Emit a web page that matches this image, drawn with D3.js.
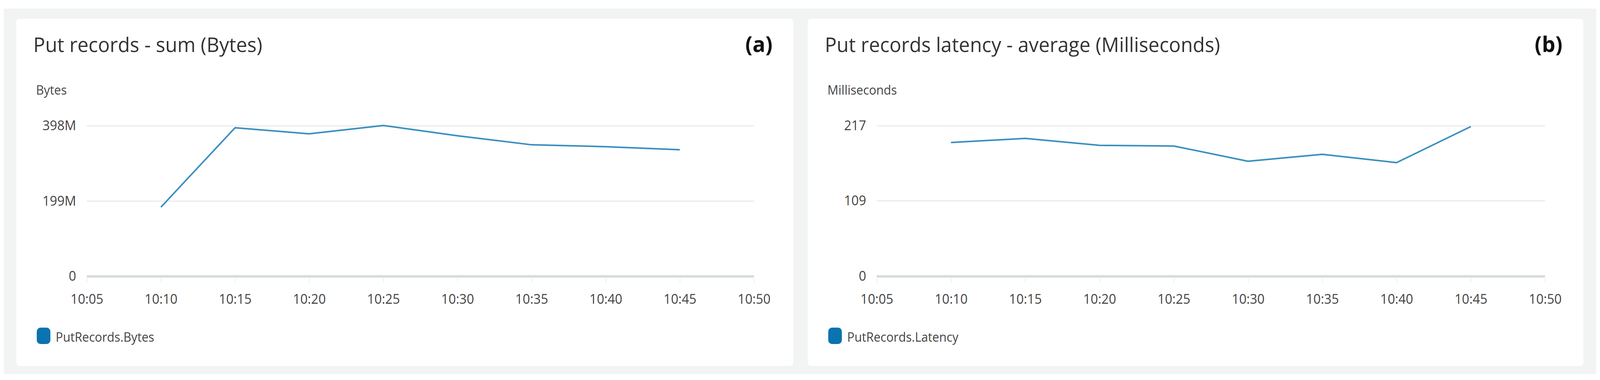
<!DOCTYPE html>
<html><head><meta charset="utf-8">
<script src="https://cdn.jsdelivr.net/npm/d3@7"></script>
<style>html,body{margin:0;padding:0;background:#fff;overflow:hidden;}svg{display:block;width:100vw;height:100vh;}text{font-family:"Open Sans",sans-serif;}</style>
</head><body><svg id="c" viewBox="0 0 4223 972" preserveAspectRatio="none"></svg>
<script>
const times = ["10:05","10:10","10:15","10:20","10:25","10:30","10:35","10:40","10:45","10:50"];
const dataTimes = ["10:10","10:15","10:20","10:25","10:30","10:35","10:40","10:45"];
const bytesValues = [183, 393, 377, 399, 372, 348, 343, 335]; // millions
const latencyValues = [193, 199, 189, 188, 166, 176, 164, 216];
const bytesTicks = [0, 199, 398];
const latencyTicks = [0, 109, 217];

const svg = d3.select("#c");
svg.append("rect").attr("x",0).attr("y",0).attr("width",4223).attr("height",972).attr("fill","#fff");
svg.append("rect").attr("x",10).attr("y",22).attr("width",4203).attr("height",935).attr("fill","#f2f3f3");

function panel(o){
  const g = svg.append("g");
  g.append("rect").attr("x",o.cx).attr("y",48).attr("width",o.cw).attr("height",888).attr("rx",8).attr("fill","#fff");
  g.append("text").attr("x",o.cx+45).attr("y",133).attr("font-size",52).attr("fill","#333").text(o.title);
  g.append("text").attr("x",o.cx+o.cw-55).attr("y",133).attr("font-size",56).attr("font-weight","bold").attr("text-anchor","end").attr("fill","#111").text(o.tag);
  g.append("text").attr("x",o.cx+52).attr("y",242).attr("font-size",32).attr("fill","#444").text(o.unit);
  const x = d3.scalePoint().domain(times).range([o.x0,o.x1]);
  const y = d3.scaleLinear().domain([0,o.max]).range([707,322]);
  g.selectAll(".gl").data(o.ticks.filter(t=>t>0)).join("line")
    .attr("x1",o.x0).attr("x2",o.x1).attr("y1",d=>y(d)).attr("y2",d=>y(d))
    .attr("stroke","#e9ebed").attr("stroke-width",3);
  g.append("line").attr("x1",o.x0).attr("x2",o.x1).attr("y1",y(0)).attr("y2",y(0)).attr("stroke","#d5dbdb").attr("stroke-width",6);
  const ya = d3.axisLeft(y).tickValues(o.ticks).tickFormat(o.fmt).tickSize(0).tickPadding(18);
  const yg = g.append("g").attr("transform",`translate(${o.x0-10},0)`).call(ya);
  yg.select(".domain").remove();
  yg.selectAll("text").attr("font-size",34).attr("fill","#444").style("font-family","'Open Sans',sans-serif");
  const xa = d3.axisBottom(x).tickSize(12).tickPadding(30);
  const xg = g.append("g").attr("transform",`translate(0,${y(0)+4})`).call(xa);
  xg.select(".domain").remove();
  xg.selectAll("line").attr("stroke","#eceeee").attr("stroke-width",2);
  xg.selectAll("text").attr("font-size",34).attr("fill","#444").style("font-family","'Open Sans',sans-serif");
  const line = d3.line().x((d,i)=>x(dataTimes[i])).y(d=>y(d));
  g.append("path").datum(o.values).attr("d",line).attr("fill","none").attr("stroke","#3a8fbf").attr("stroke-width",4).attr("stroke-linejoin","round");
  g.append("rect").attr("x",o.cx+54).attr("y",838).attr("width",36).attr("height",42).attr("rx",10).attr("fill","#0a73b0");
  g.append("text").attr("x",o.cx+104).attr("y",874).attr("font-size",32).attr("fill","#444").text(o.legend);
}
panel({cx:43,cw:2051,x0:229,x1:1990,title:"Put records - sum (Bytes)",tag:"(a)",unit:"Bytes",max:398,ticks:bytesTicks,fmt:d=>d===0?"0":d+"M",values:bytesValues,legend:"PutRecords.Bytes"});
panel({cx:2132,cw:2047,x0:2314,x1:4078,title:"Put records latency - average (Milliseconds)",tag:"(b)",unit:"Milliseconds",max:217,ticks:latencyTicks,fmt:d=>String(d),values:latencyValues,legend:"PutRecords.Latency"});
</script></body></html>
